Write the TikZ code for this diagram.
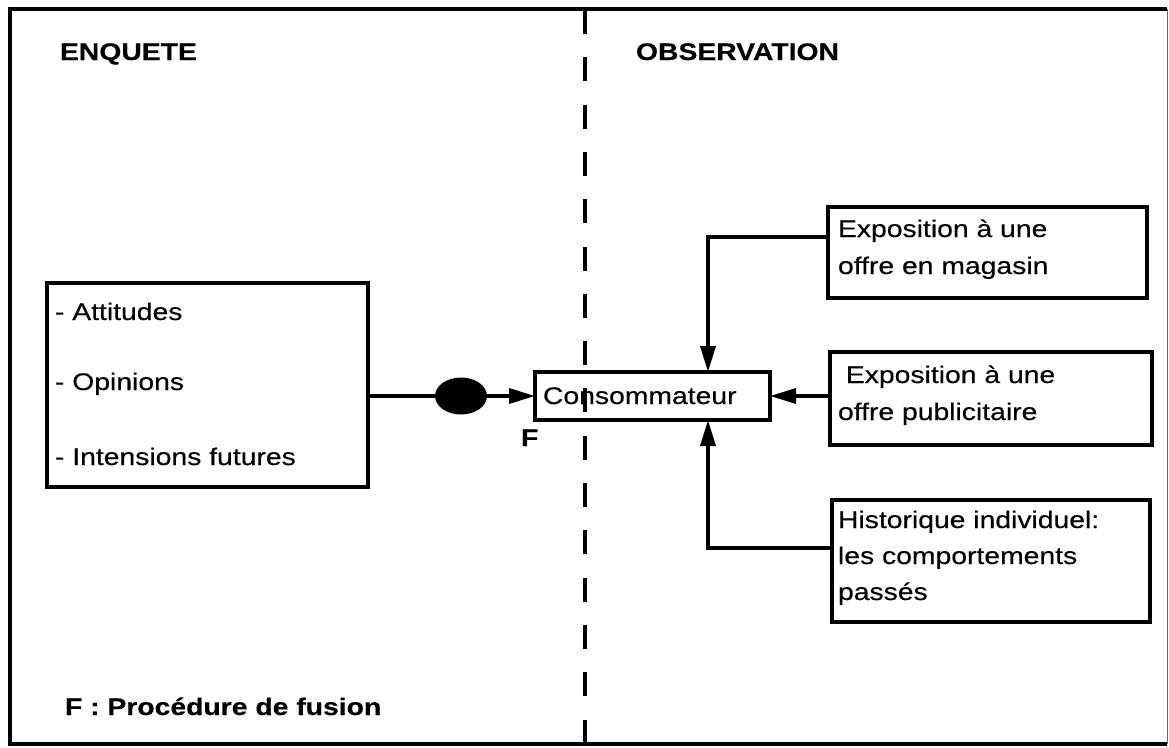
\documentclass[tikz,border=0pt]{standalone}
\usepackage{fontspec}
\setmainfont{Liberation Sans}[FakeStretch=1.18,FakeBold=0.4]
\usetikzlibrary{arrows.meta,shapes.geometric}
\begin{document}
\begin{tikzpicture}[x=1pt,y=-1pt,
  every node/.style={inner sep=0pt, outer sep=0pt},
  txt/.style={anchor=base west, font=\fontsize{24}{37}\selectfont},
  ttl/.style={anchor=base west, font=\fontsize{24}{30}\selectfont\bfseries},
  box/.style={draw, line width=3.5pt, rectangle, anchor=north west},
  conn/.style={line width=3.5pt},
  arr/.style={line width=3.5pt, -{Triangle[length=26pt,width=15pt]}}]
\useasboundingbox (0,0) rectangle (1169,747);
% frame
\draw[line width=3.5pt] (1167,9) -- (10,9) -- (10,744) -- (1167,744);
\draw[line width=1pt, black!60] (1167,9) -- (1167,744);
% separator
\draw[line width=3.5pt, dash pattern=on 24pt off 23.3pt] (585,10) -- (585,747);
% titles
\node[ttl] (enq) at (60,60) {ENQUETE};
\node[ttl] (obs) at (636,60) {OBSERVATION};
\node[ttl] (leg) at (65,715) {F : Procédure de fusion};
% left box
\node[box, minimum width=321pt, minimum height=204pt] (att) at (47,283) {};
\node[txt] (t1) at (55,320) {- Attitudes};
\node[txt] (t2) at (55,390) {- Opinions};
\node[txt] (t3) at (55,465) {- Intensions futures};
% fusion
\node[ellipse, fill=black, minimum width=52pt, minimum height=37pt] (fuse) at (461,396) {};
\node[ttl] (flab) at (521,446) {F};
% consommateur
\node[box, minimum width=235pt, minimum height=48pt] (cons) at (535,372) {};
\node[txt] (ct) at (543,404) {Consommateur};
% right boxes
\node[box, minimum width=319pt, minimum height=91pt] (e1) at (828,207) {};
\node[txt] (e1a) at (838,237) {Exposition à une};
\node[txt] (e1b) at (838,274) {offre en magasin};
\node[box, minimum width=322pt, minimum height=93pt] (e2) at (830,352) {};
\node[txt] (e2a) at (838,383) {\ Exposition à une};
\node[txt] (e2b) at (838,420) {offre publicitaire};
\node[box, minimum width=318pt, minimum height=122pt] (e3) at (832,500) {};
\node[txt] (e3a) at (838,528) {Historique individuel:};
\node[txt] (e3b) at (838,564) {les comportements};
\node[txt] (e3c) at (838,600) {passés};
% connectors
\coordinate (j1) at (708,237);
\coordinate (j3) at (708,548);
\draw[conn] (fuse.west -| att.east) -- (fuse.west);
\draw[arr] (fuse.east) -- (cons.west);
\draw[arr] (e1.west |- j1) -- (j1) -- (j1 |- cons.north);
\draw[arr] (e2.west |- cons.east) -- (cons.east);
\draw[arr] (e3.west |- j3) -- (j3) -- (j3 |- cons.south);
\end{tikzpicture}
\end{document}
